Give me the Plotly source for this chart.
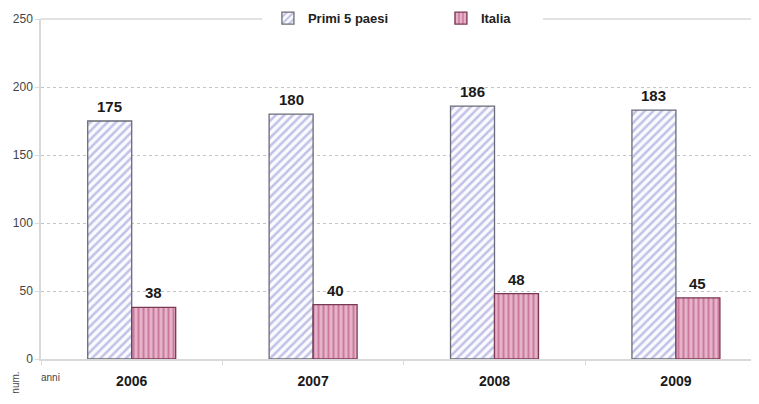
import plotly.graph_objects as go

years = ["2006", "2007", "2008", "2009"]
primi = [175, 180, 186, 183]
italia = [38, 40, 48, 45]
series_names = ["Primi 5 paesi", "Italia"]
y_ticks = [0, 50, 100, 150, 200, 250]

FONT = "Liberation Sans, Arial, sans-serif"

fig = go.Figure()
fig.add_trace(go.Bar(
    name=series_names[0], x=years, y=primi,
    marker=dict(color="white",
                line=dict(color="#6a6a78", width=1.3),
                pattern=dict(shape="/", fgcolor="#8a8ad0", bgcolor="#fbfbff",
                             size=6, solidity=0.42, fillmode="overlay")),
))
fig.add_trace(go.Bar(
    name=series_names[1], x=years, y=italia,
    marker=dict(color="#e2aac1",
                line=dict(color="#7a3a55", width=1.3),
                pattern=dict(shape="|", fgcolor="#b03d74", bgcolor="#e6b4c8",
                             size=5, solidity=0.4, fillmode="overlay")),
))

# value labels (category index positions)
for vals, shift in ((primi, -22), (italia, 22)):
    for i, v in enumerate(vals):
        fig.add_annotation(x=i, y=v, text=f"<b>{v}</b>", showarrow=False,
                           xshift=shift, yshift=4, yanchor="bottom",
                           font=dict(family=FONT, size=15, color="#1a1a1a"))

# top border line, interrupted by the legend
for x0, x1 in ((0, 0.308), (0.699, 1)):
    fig.add_shape(type="line", xref="paper", yref="paper", x0=x0, x1=x1, y0=1, y1=1,
                  line=dict(color="#d9d9d9", width=1.5))

fig.add_annotation(text="num.", xref="paper", yref="paper", x=-0.046, y=-0.03,
                   textangle=-90, showarrow=False, yanchor="top",
                   font=dict(family=FONT, size=10, color="#444"))
fig.add_annotation(text="anni", xref="paper", yref="paper", x=-0.003, y=-0.055,
                   xanchor="left", yanchor="middle", showarrow=False,
                   font=dict(family=FONT, size=10, color="#444"))

fig.update_layout(
    width=759, height=404,
    margin=dict(l=33, r=8, t=11, b=53, autoexpand=False),
    paper_bgcolor="white", plot_bgcolor="white",
    barmode="group", bargap=0.515, bargroupgap=0,
    font=dict(family=FONT, color="#333"),
    legend=dict(orientation="h", x=0.557, xanchor="center",
                yref="container", y=0.975, yanchor="middle",
                bgcolor="rgba(0,0,0,0)",
                font=dict(size=13, color="#222", weight="bold"),
                entrywidth=128, itemwidth=30),
    showlegend=True,
)
fig.update_xaxes(
    type="category",
    range=[-0.5, 3.458], showline=True, linecolor="#d9d9d9", linewidth=1.5,
    ticks="outside", tickson="boundaries", ticklen=4, tickcolor="#d9d9d9",
    ticklabelstandoff=8,
    tickfont=dict(size=14, color="#1a1a1a", family=FONT),
    tickprefix="<b>", ticksuffix="</b>", showgrid=False,
)
fig.update_yaxes(
    range=[0, 250], tickvals=y_ticks, showline=True, linecolor="#d9d9d9", linewidth=1.5,
    showgrid=True, gridcolor="#c4c4c4", griddash="dot", gridwidth=1,
    ticks="outside", ticklen=4, tickcolor="#d9d9d9",
    tickfont=dict(size=12, color="#444"), zeroline=False,
)

fig.write_html("out.html")
